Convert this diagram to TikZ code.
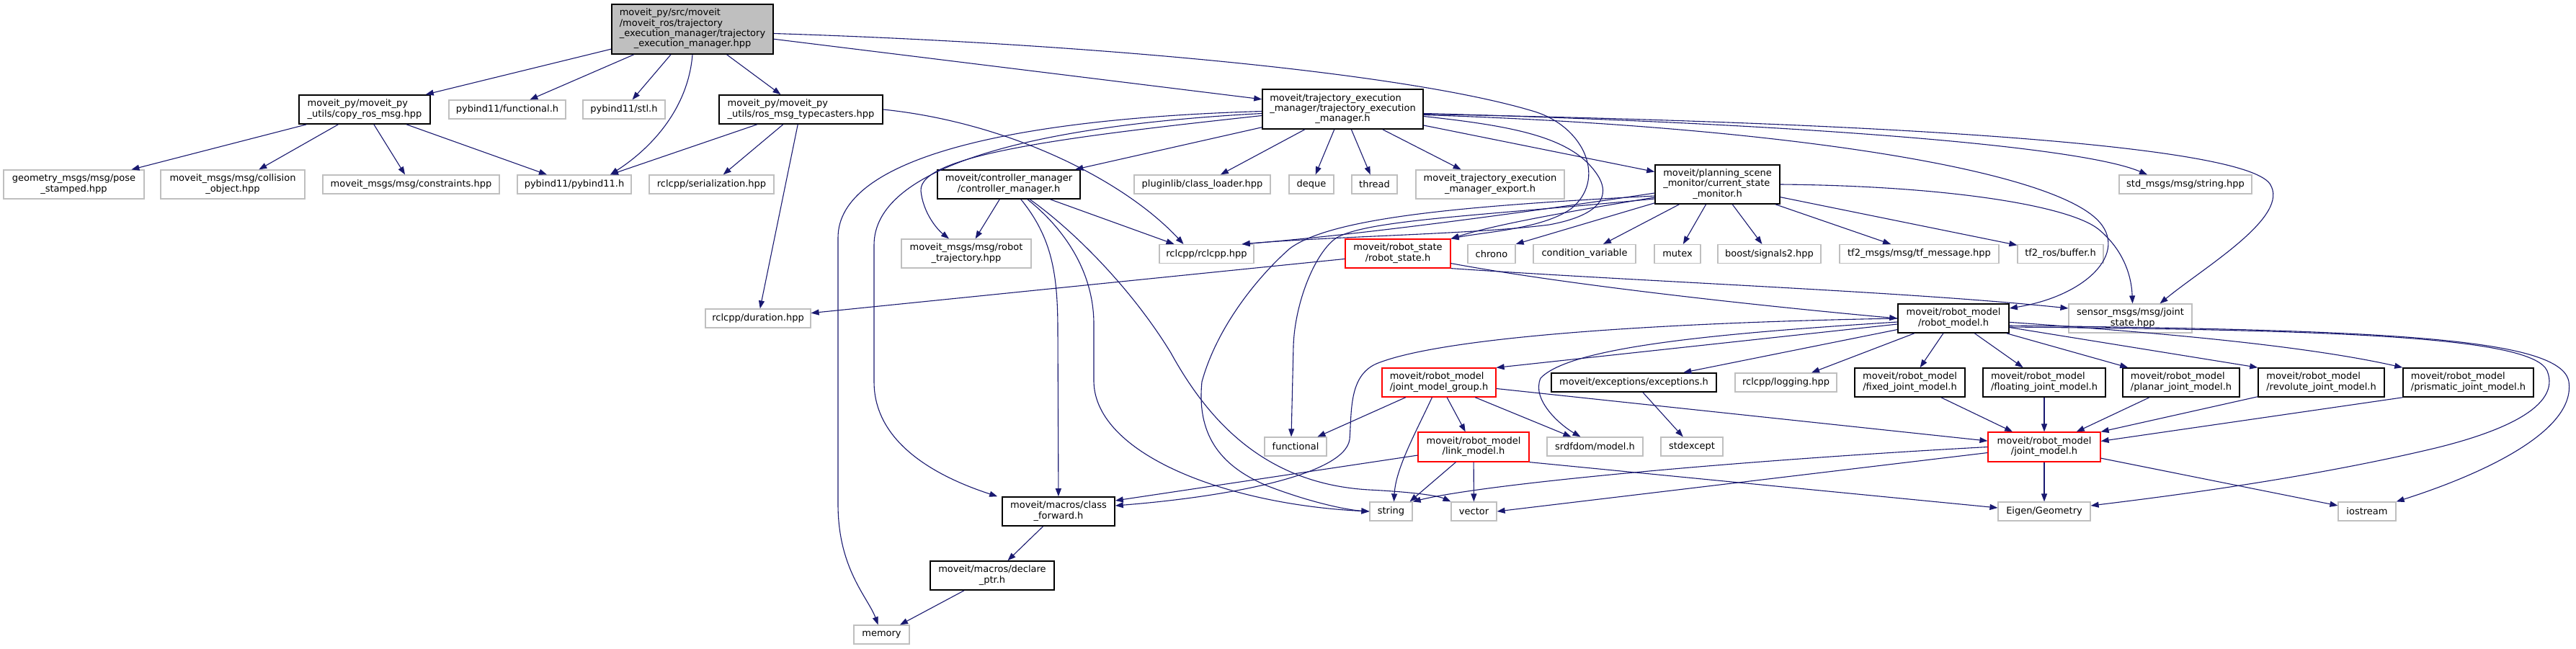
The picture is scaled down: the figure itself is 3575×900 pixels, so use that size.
\documentclass[tikz,border=0pt]{standalone}
\usepackage{fontspec}
\setmainfont{DejaVu Sans}
\usetikzlibrary{arrows.meta,calc}
\definecolor{edgec}{HTML}{191970}
\definecolor{greyb}{HTML}{BFBFBF}
\newcommand\ml[2]{\begin{tabular}{@{}l@{}}#1\\\multicolumn{1}{@{}c@{}}{#2}\end{tabular}}
\begin{document}
\begin{tikzpicture}[x=1pt,y=-1pt,
  nd/.style={rectangle, inner sep=0pt, fill=white, font=\fontsize{13}{14.3}\selectfont, line width=1.2pt},
  gb/.style={nd, draw=greyb},
  bb/.style={nd, draw=black, line width=1.6pt},
  rb/.style={nd, draw=red},
  sz/.style 2 args={minimum width=#1pt, minimum height=#2pt},
  lnk/.style={draw=edgec, line width=1.1pt, -{Triangle[length=11pt,width=8pt]}}
]
\fill[white] (0,0) rectangle (3575,900);
\useasboundingbox (0,0) rectangle (3575,900);

% ---------- nodes ----------
\node[nd, draw=black, fill=greyb, line width=1.6pt, sz={224}{69}] (root) at (961,40.5) {\ml{moveit\_py/src/moveit\\/moveit\_ros/trajectory\\\_execution\_manager/trajectory}{\_execution\_manager.hpp}};
\node[bb, sz={182}{40}] (CR) at (506,152) {\ml{moveit\_py/moveit\_py}{\_utils/copy\_ros\_msg.hpp}};
\node[gb, sz={162}{26}] (pyfunc) at (704,152) {pybind11/functional.h};
\node[gb, sz={114}{26}] (pystl) at (866,152) {pybind11/stl.h};
\node[bb, sz={227}{40}] (RT) at (1111.5,152) {\ml{moveit\_py/moveit\_py}{\_utils/ros\_msg\_typecasters.hpp}};
\node[bb, sz={223}{55}] (TEM) at (1863.5,151.5) {\ml{moveit/trajectory\_execution\\\_manager/trajectory\_execution}{\_manager.h}};

\node[gb, sz={195}{40}] (pose) at (102.5,256) {\ml{geometry\_msgs/msg/pose}{\_stamped.hpp}};
\node[gb, sz={200}{40}] (collision) at (323,256) {\ml{moveit\_msgs/msg/collision}{\_object.hpp}};
\node[gb, sz={245}{26}] (constraints) at (570.5,256) {moveit\_msgs/msg/constraints.hpp};
\node[gb, sz={158}{26}] (pybind11) at (797,256) {pybind11/pybind11.h};
\node[gb, sz={173}{26}] (serialization) at (987.5,256) {rclcpp/serialization.hpp};
\node[bb, sz={198}{40}] (CM) at (1400,256) {\ml{moveit/controller\_manager}{/controller\_manager.h}};
\node[gb, sz={189}{26}] (pluginlib) at (1668.5,256) {pluginlib/class\_loader.hpp};
\node[gb, sz={62}{26}] (deque) at (1820,256) {deque};
\node[gb, sz={63}{26}] (thread) at (1907.5,256) {thread};
\node[gb, sz={206}{40}] (export) at (2068,256) {\ml{moveit\_trajectory\_execution}{\_manager\_export.h}};
\node[bb, sz={173}{54}] (CSM) at (2383.5,256) {\ml{moveit/planning\_scene\\\_monitor/current\_state}{\_monitor.h}};
\node[gb, sz={184}{26}] (stdstring) at (3033,256) {std\_msgs/msg/string.hpp};

\node[gb, sz={180}{40}] (robtraj) at (1341,352) {\ml{moveit\_msgs/msg/robot}{\_trajectory.hpp}};
\node[gb, sz={131}{26}] (rclcpp) at (1674.5,352.5) {rclcpp/rclcpp.hpp};
\node[rb, sz={146}{40}] (RS) at (1940,352) {\ml{moveit/robot\_state}{/robot\_state.h}};
\node[gb, sz={66}{26}] (chrono) at (2070,352.5) {chrono};
\node[gb, sz={142}{26}] (condvar) at (2199,352.5) {condition\_variable};
\node[gb, sz={64}{26}] (mutex) at (2328,352.5) {mutex};
\node[gb, sz={143}{26}] (boost) at (2455.5,352.5) {boost/signals2.hpp};
\node[gb, sz={221}{26}] (tfmsg) at (2663.5,352.5) {tf2\_msgs/msg/tf\_message.hpp};
\node[gb, sz={119}{26}] (tfbuf) at (2859.5,352.5) {tf2\_ros/buffer.h};

\node[gb, sz={146}{26}] (duration) at (1052,442) {rclcpp/duration.hpp};
\node[bb, sz={154}{40}] (RM) at (2711,442) {\ml{moveit/robot\_model}{/robot\_model.h}};
\node[gb, sz={171}{40}] (jstate) at (2956.5,442) {\ml{sensor\_msgs/msg/joint}{\_state.hpp}};

\node[rb, sz={158}{40}] (JMG) at (1997,531) {\ml{moveit/robot\_model}{/joint\_model\_group.h}};
\node[bb, sz={229}{26}] (exc) at (2267.5,531) {moveit/exceptions/exceptions.h};
\node[gb, sz={141}{26}] (logging) at (2478.5,531) {rclcpp/logging.hpp};
\node[bb, sz={153}{40}] (fixed) at (2650.5,531) {\ml{moveit/robot\_model}{/fixed\_joint\_model.h}};
\node[bb, sz={170}{40}] (floating) at (2837,531) {\ml{moveit/robot\_model}{/floating\_joint\_model.h}};
\node[bb, sz={162}{40}] (planar) at (3027,531) {\ml{moveit/robot\_model}{/planar\_joint\_model.h}};
\node[bb, sz={175}{40}] (revolute) at (3221.5,531) {\ml{moveit/robot\_model}{/revolute\_joint\_model.h}};
\node[bb, sz={181}{40}] (prismatic) at (3425.5,531) {\ml{moveit/robot\_model}{/prismatic\_joint\_model.h}};

\node[gb, sz={86}{26}] (functional) at (1798,620) {functional};
\node[rb, sz={154}{41}] (LM) at (2045,620.5) {\ml{moveit/robot\_model}{/link\_model.h}};
\node[gb, sz={133}{26}] (srdf) at (2213.5,620) {srdfdom/model.h};
\node[gb, sz={86}{26}] (stdexcept) at (2348,620) {stdexcept};
\node[rb, sz={156}{41}] (JM) at (2837,620.5) {\ml{moveit/robot\_model}{/joint\_model.h}};

\node[bb, sz={156}{40}] (CF) at (1469,710) {\ml{moveit/macros/class}{\_forward.h}};
\node[gb, sz={59}{26}] (string) at (1930.5,710) {string};
\node[gb, sz={63}{26}] (vector) at (2045.5,710) {vector};
\node[gb, sz={128}{26}] (eigen) at (2837,710) {Eigen/Geometry};
\node[gb, sz={80}{26}] (iostream) at (3285,710) {iostream};

\node[bb, sz={172}{40}] (DP) at (1377,799) {\ml{moveit/macros/declare}{\_ptr.h}};
\node[gb, sz={77}{26}] (memory) at (1223.5,881) {memory};

% ---------- edges: root ----------
\draw[lnk] (root) -- (CR);
\draw[lnk] (root) -- (pyfunc);
\draw[lnk] (root) -- (pystl);
\draw[lnk] (root.south) .. controls (955,150) and (905,205) .. ([xshift=50pt]pybind11.north);
\draw[lnk] (root) -- (RT);
\draw[lnk] (root) -- (TEM);
\draw[lnk] ($(root.east)+(0,6)$) .. controls (1500,60) and (1950,100) .. (2130,155) .. controls (2200,177) and (2230,250) .. (2180,290) .. controls (2140,318) and (2060,322) .. (RS.north east);

% ---------- copy_ros_msg ----------
\draw[lnk] (CR) -- (pose);
\draw[lnk] (CR) -- (collision);
\draw[lnk] (CR) -- (constraints);
\draw[lnk] (CR) -- (pybind11);

% ---------- ros_msg_typecasters ----------
\draw[lnk] (RT) -- ([xshift=50pt]pybind11.north);
\draw[lnk] (RT) -- (serialization);
\draw[lnk] (RT) -- (duration);
\draw[lnk] (RT.east) .. controls (1400,170) and (1560,250) .. ([xshift=-32pt]rclcpp.north);

% ---------- trajectory_execution_manager.h ----------
\draw[lnk] (TEM) -- (CM);
\draw[lnk] (TEM) -- (pluginlib);
\draw[lnk] (TEM) -- (deque);
\draw[lnk] (TEM) -- (thread);
\draw[lnk] (TEM) -- (export);
\draw[lnk] (TEM) -- (CSM);
\draw[lnk] ($(TEM.east)+(0,6)$) .. controls (2450,170) and (2880,200) .. ([xshift=-53pt]stdstring.north);
\draw[lnk] ($(TEM.east)+(0,7)$) .. controls (2600,170) and (3110,200) .. (3150,255) .. controls (3180,300) and (3060,370) .. ([xshift=41pt]jstate.north);
\draw[lnk] ($(TEM.east)+(0,8)$) .. controls (2450,175) and (2820,230) .. (2905,300) .. controls (2960,345) and (2900,410) .. ($(RM.east)+(0,-14)$);
\draw[lnk] ($(TEM.east)+(0,10)$) .. controls (2100,175) and (2180,190) .. (2215,240) .. controls (2240,275) and (2215,300) .. (2150,312) .. controls (2050,325) and (1850,328) .. ([xshift=-17pt]rclcpp.north east);
\draw[lnk] ($(TEM.west)+(0,3)$) .. controls (1400,165) and (1163,220) .. (1163,330) -- (1163,700) .. controls (1163,790) and (1205,830) .. (memory);
\draw[lnk] ($(TEM.west)+(0,6)$) .. controls (1420,175) and (1213,235) .. (1213,340) -- (1213,530) .. controls (1213,620) and (1310,665) .. ([xshift=-6pt]CF.north west);
\draw[lnk] ($(TEM.west)+(0,9)$) .. controls (1480,190) and (1275,215) .. (1278,265) .. controls (1281,295) and (1300,318) .. ([xshift=-24pt]robtraj.north);

% ---------- controller_manager.h ----------
\draw[lnk] (CM) -- (robtraj);
\draw[lnk] (CM) .. controls (1460,330) and (1468,380) .. (1468,460) -- (CF);
\draw[lnk] (CM) .. controls (1480,320) and (1518,380) .. (1518,450) -- (1518,530) .. controls (1520,630) and (1700,700) .. (string.west);
\draw[lnk] (CM) .. controls (1490,320) and (1570,400) .. (1625,490) .. controls (1680,590) and (1760,672) .. (1900,680) .. controls (1960,683) and (1995,688) .. (vector.north west);
\draw[lnk] (CM) -- ([xshift=-45pt]rclcpp.north);

% ---------- current_state_monitor.h ----------
\draw[lnk] (CSM) -- (chrono.north east);
\draw[lnk] (CSM) -- (condvar);
\draw[lnk] (CSM) -- (mutex);
\draw[lnk] (CSM) -- (boost);
\draw[lnk] (CSM) -- (tfmsg);
\draw[lnk] (CSM) -- (tfbuf);
\draw[lnk] (CSM.east) .. controls (2700,258) and (2870,285) .. (2912,318) .. controls (2945,345) and (2958,380) .. ([xshift=3pt]jstate.north);
\draw[lnk] ($(CSM.west)+(0,12)$) .. controls (2150,290) and (1900,325) .. ([xshift=-17pt]rclcpp.north east);
\draw[lnk] ($(CSM.west)+(0,18)$) .. controls (2200,290) and (2080,310) .. (RS.north east);
\draw[lnk] ($(CSM.west)+(0,20)$) .. controls (2050,300) and (1900,305) .. (1855,330) .. controls (1825,350) and (1797,420) .. (1795,480) -- ([xshift=-6pt]functional.north);
\draw[lnk] ($(CSM.west)+(0,16)$) .. controls (2050,285) and (1850,300) .. (1790,345) .. controls (1750,380) and (1690,450) .. (1668,530) .. controls (1660,610) and (1700,650) .. (1760,675) .. controls (1820,698) and (1870,708) .. (string.west);

% ---------- robot_state.h ----------
\draw[lnk] (RS) -- (duration);
\draw[lnk] (RS.south east) .. controls (2300,392) and (2650,405) .. ($(jstate.west)+(0,-14)$);
\draw[lnk] (RS) .. controls (2200,400) and (2500,430) .. (RM.west);

% ---------- robot_model.h ----------
\draw[lnk] ($(RM.west)+(0,8)$) -- (JMG.north east);
\draw[lnk] (RM.west) .. controls (2300,448) and (2000,468) .. (1910,505) .. controls (1872,522) and (1876,570) .. (1873,610) .. controls (1866,660) and (1700,690) .. ($(CF.east)+(0,-8)$);
\draw[lnk] ($(RM.west)+(0,5)$) .. controls (2400,462) and (2180,480) .. (2138,525) .. controls (2125,555) and (2165,590) .. ([xshift=-20pt]srdf.north);
\draw[lnk] (RM) -- (exc);
\draw[lnk] (RM) -- (logging);
\draw[lnk] (RM) -- (fixed);
\draw[lnk] (RM) -- (floating);
\draw[lnk] (RM) -- (planar);
\draw[lnk] (RM) -- (revolute.north west);
\draw[lnk] (RM) .. controls (3000,462) and (3200,480) .. (prismatic.north west);
\draw[lnk] ($(RM.east)+(0,12)$) .. controls (3250,458) and (3515,468) .. (3535,515) .. controls (3555,565) and (3470,600) .. (3380,622) .. controls (3200,665) and (3000,690) .. ($(eigen.east)+(0,-8)$);
\draw[lnk] ($(RM.east)+(0,10)$) .. controls (3300,458) and (3555,468) .. (3565,530) .. controls (3575,600) and (3440,660) .. (iostream.north east);

% ---------- joint_model_group.h ----------
\draw[lnk] (JMG) -- (functional);
\draw[lnk] (JMG) .. controls (1965,600) and (1937,650) .. ([xshift=4pt]string.north);
\draw[lnk] (JMG) -- (LM);
\draw[lnk] (JMG) -- (srdf);
\draw[lnk] (JMG) -- (JM);

% ---------- link_model.h ----------
\draw[lnk] (LM) -- ($(CF.east)+(0,-15)$);
\draw[lnk] (LM) -- ([xshift=26pt]string.north);
\draw[lnk] (LM) -- (vector);
\draw[lnk] (LM.south east) -- ($(eigen.west)+(0,-5)$);

% ---------- exceptions / joint models ----------
\draw[lnk] (exc) -- (stdexcept);
\draw[lnk] (fixed) -- (JM);
\draw[lnk] (floating) -- (JM);
\draw[lnk] (planar) -- (JM);
\draw[lnk] (revolute) -- (JM.north east);
\draw[lnk] (prismatic.south west) -- ($(JM.east)+(0,-8)$);

% ---------- joint_model.h ----------
\draw[lnk] (JM.west) .. controls (2400,640) and (2060,672) .. (string.north east);
\draw[lnk] ($(JM.west)+(0,8)$) -- (vector.east);
\draw[lnk] (JM) -- (eigen);
\draw[lnk] (JM) -- (iostream);

% ---------- macros ----------
\draw[lnk] (CF) -- (DP);
\draw[lnk] (DP) -- (memory);
\end{tikzpicture}
\end{document}
